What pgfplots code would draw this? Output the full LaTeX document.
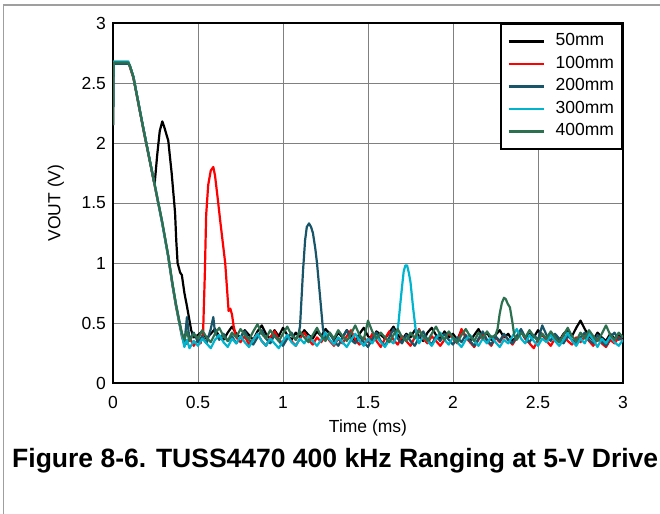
\documentclass[border=0pt]{standalone}
\usepackage{pgfplots}
\pgfplotsset{compat=1.18}
\usepackage{fontspec}
\setmainfont{Liberation Sans}
\definecolor{cA}{RGB}{0,0,0}
\definecolor{cB}{RGB}{255,0,0}
\definecolor{cC}{RGB}{25,85,105}
\definecolor{cD}{RGB}{0,180,205}
\definecolor{cE}{RGB}{45,112,80}
\newcommand{\lbl}{\fontsize{17.5bp}{20bp}\selectfont}
\begin{document}
\begin{tikzpicture}
\path[use as bounding box] (0,0) rectangle (660bp,514bp);
\draw[gray!75, line width=1.5bp] (3.5bp,0) -- (3.5bp,509bp) -- (660bp,509bp);
\begin{axis}[
  at={(113bp,131bp)}, anchor=south west,
  scale only axis, width=510bp, height=360bp,
  xmin=0, xmax=3, ymin=0, ymax=3,
  xtick={0,0.5,1,1.5,2,2.5,3}, ytick={0,0.5,1,1.5,2,2.5,3},
  grid=major, major grid style={gray, line width=0.9bp},
  axis line style={line width=2.2bp},
  major tick length=0pt,
  tick label style={font=\lbl},
  /pgf/number format/assume math mode=true,
  xticklabel style={yshift=-10bp},
  yticklabel style={xshift=-3.5bp},
  xlabel={Time (ms)}, ylabel={VOUT (V)},
  label style={font=\lbl},
  xlabel style={at={(axis description cs:0.5,-0.125)}, anchor=center},
  ylabel style={at={(axis description cs:-0.112,0.5)}, anchor=center},
  every axis plot/.append style={line width=2.2bp, line join=round},
  legend cell align=left,
  legend image code/.code={\draw[#1] (0bp,0bp) -- (35bp,0bp); \path (44bp,0bp);},
  legend style={at={(1,1)}, anchor=north east, draw=black, line width=2bp,
    font=\lbl, inner xsep=6bp, inner ysep=8bp, row sep=3.5bp,
    nodes={text height=12bp, text depth=3bp, inner sep=2bp}},
]
\addplot[cA] coordinates {(0,2.15)(0.003,2.67)(0.09,2.67)(0.10,2.64)(0.12,2.55)(0.15,2.33)(0.18,2.11)(0.21,1.90)(0.235,1.72)(0.245,1.66)(0.26,1.90)(0.275,2.10)(0.29,2.18)(0.30,2.14)(0.325,2.02)(0.345,1.75)(0.365,1.42)(0.372,1.19)(0.38,1.00)(0.395,0.92)(0.405,0.90)(0.42,0.75)(0.435,0.64)(0.45,0.52)(0.46,0.44)(0.475,0.38)
(0.500,0.40)(0.525,0.43)(0.550,0.37)(0.575,0.41)(0.600,0.45)(0.625,0.39)(0.650,0.36)(0.675,0.42)(0.700,0.47)(0.725,0.41)(0.750,0.38)(0.775,0.44)(0.800,0.40)(0.825,0.36)(0.850,0.43)(0.875,0.48)(0.900,0.41)(0.925,0.37)(0.950,0.44)(0.975,0.39)(1.000,0.46)(1.025,0.40)(1.050,0.36)(1.075,0.42)(1.100,0.38)(1.125,0.44)(1.150,0.40)(1.175,0.37)(1.200,0.43)(1.225,0.39)(1.250,0.45)(1.275,0.41)(1.300,0.36)(1.325,0.42)(1.350,0.38)(1.375,0.44)(1.400,0.40)(1.425,0.35)(1.450,0.41)(1.475,0.46)(1.500,0.39)(1.525,0.36)(1.550,0.43)(1.575,0.40)(1.600,0.37)(1.625,0.42)(1.650,0.47)(1.675,0.40)(1.700,0.36)(1.725,0.41)(1.750,0.38)(1.775,0.44)(1.800,0.39)(1.825,0.35)(1.850,0.42)(1.875,0.46)(1.900,0.40)(1.925,0.37)(1.950,0.43)(1.975,0.38)(2.000,0.41)(2.025,0.36)(2.050,0.44)(2.075,0.39)(2.100,0.35)(2.125,0.40)(2.150,0.45)(2.175,0.38)(2.200,0.42)(2.225,0.36)(2.250,0.40)(2.275,0.44)(2.300,0.38)(2.325,0.41)(2.350,0.35)(2.375,0.39)(2.400,0.43)(2.425,0.37)(2.450,0.41)(2.475,0.38)(2.500,0.44)(2.525,0.40)(2.550,0.36)(2.575,0.42)(2.600,0.38)(2.625,0.35)(2.650,0.41)(2.675,0.44)(2.700,0.39)(2.725,0.46)(2.750,0.52)(2.775,0.45)(2.800,0.39)(2.825,0.36)(2.850,0.42)(2.875,0.38)(2.900,0.35)(2.925,0.41)(2.950,0.37)(2.975,0.40)(3.000,0.38)};
\addlegendentry{50mm}
\addplot[cB] coordinates {(0,2.15)(0.003,2.67)(0.09,2.67)(0.10,2.63)(0.12,2.54)(0.15,2.32)(0.18,2.10)(0.21,1.89)(0.25,1.61)(0.29,1.33)(0.325,1.05)(0.35,0.81)(0.37,0.64)(0.39,0.50)(0.405,0.39)(0.42,0.32)(0.435,0.33)(0.45,0.38)(0.475,0.31)(0.50,0.36)(0.515,0.33)(0.53,0.42)(0.54,0.90)(0.548,1.40)(0.56,1.65)(0.575,1.77)(0.59,1.80)(0.60,1.73)(0.615,1.55)(0.63,1.36)(0.645,1.18)(0.66,1.00)(0.67,0.80)(0.68,0.60)(0.69,0.62)(0.70,0.57)(0.71,0.47)(0.725,0.38)
(0.750,0.34)(0.775,0.39)(0.800,0.32)(0.825,0.36)(0.850,0.41)(0.875,0.35)(0.900,0.31)(0.925,0.38)(0.950,0.43)(0.975,0.36)(1.000,0.33)(1.025,0.39)(1.050,0.35)(1.075,0.31)(1.100,0.37)(1.125,0.42)(1.150,0.36)(1.175,0.32)(1.200,0.38)(1.225,0.34)(1.250,0.40)(1.275,0.35)(1.300,0.31)(1.325,0.37)(1.350,0.33)(1.375,0.39)(1.400,0.44)(1.425,0.36)(1.450,0.32)(1.475,0.38)(1.500,0.34)(1.525,0.41)(1.550,0.35)(1.575,0.30)(1.600,0.37)(1.625,0.43)(1.650,0.36)(1.675,0.32)(1.700,0.39)(1.725,0.35)(1.750,0.31)(1.775,0.38)(1.800,0.45)(1.825,0.37)(1.850,0.33)(1.875,0.39)(1.900,0.35)(1.925,0.31)(1.950,0.36)(1.975,0.42)(2.000,0.37)(2.025,0.33)(2.050,0.45)(2.075,0.38)(2.100,0.34)(2.125,0.30)(2.150,0.36)(2.175,0.41)(2.200,0.35)(2.225,0.31)(2.250,0.38)(2.275,0.34)(2.300,0.40)(2.325,0.36)(2.350,0.32)(2.375,0.38)(2.400,0.44)(2.425,0.37)(2.450,0.33)(2.475,0.29)(2.500,0.36)(2.525,0.41)(2.550,0.35)(2.575,0.31)(2.600,0.37)(2.625,0.34)(2.650,0.40)(2.675,0.35)(2.700,0.32)(2.725,0.38)(2.750,0.34)(2.775,0.39)(2.800,0.35)(2.825,0.31)(2.850,0.37)(2.875,0.33)(2.900,0.30)(2.925,0.36)(2.950,0.33)(2.975,0.38)(3.000,0.35)};
\addlegendentry{100mm}
\addplot[cC] coordinates {(0,2.15)(0.003,2.66)(0.09,2.66)(0.10,2.64)(0.12,2.55)(0.15,2.33)(0.18,2.11)(0.21,1.90)(0.25,1.62)(0.29,1.33)(0.325,1.06)(0.35,0.82)(0.37,0.66)(0.39,0.52)(0.405,0.41)(0.42,0.33)(0.435,0.55)(0.45,0.36)(0.475,0.42)(0.50,0.34)(0.525,0.39)(0.55,0.33)(0.575,0.45)(0.59,0.55)(0.60,0.42)
(0.625,0.36)(0.650,0.41)(0.675,0.35)(0.700,0.39)(0.725,0.33)(0.750,0.38)(0.775,0.43)(0.800,0.36)(0.825,0.32)(0.850,0.38)(0.875,0.44)(0.900,0.37)(0.925,0.33)(0.950,0.40)(0.975,0.35)(1.000,0.31)(1.025,0.37)(1.050,0.42)(1.075,0.36)(1.09,0.40)(1.10,0.47)(1.118,0.94)(1.13,1.19)(1.14,1.30)(1.153,1.33)(1.165,1.30)(1.176,1.25)(1.19,1.12)(1.20,1.00)(1.218,0.72)(1.235,0.45)(1.25,0.37)(1.275,0.42)(1.300,0.35)(1.325,0.31)(1.350,0.38)(1.375,0.44)(1.400,0.36)(1.425,0.33)(1.450,0.39)(1.475,0.34)(1.500,0.30)(1.525,0.37)(1.550,0.42)(1.575,0.35)(1.600,0.31)(1.625,0.38)(1.650,0.45)(1.675,0.37)(1.700,0.33)(1.725,0.40)(1.750,0.35)(1.775,0.31)(1.800,0.38)(1.825,0.43)(1.850,0.36)(1.875,0.32)(1.900,0.39)(1.925,0.35)(1.950,0.41)(1.975,0.36)(2.000,0.32)(2.025,0.38)(2.050,0.34)(2.075,0.40)(2.100,0.35)(2.125,0.31)(2.150,0.37)(2.175,0.43)(2.200,0.36)(2.225,0.32)(2.250,0.39)(2.275,0.35)(2.300,0.41)(2.325,0.36)(2.350,0.33)(2.375,0.39)(2.400,0.45)(2.425,0.38)(2.450,0.34)(2.475,0.40)(2.500,0.36)(2.525,0.48)(2.550,0.40)(2.575,0.35)(2.600,0.41)(2.625,0.37)(2.650,0.33)(2.675,0.39)(2.700,0.36)(2.725,0.32)(2.750,0.38)(2.775,0.42)(2.800,0.36)(2.825,0.33)(2.850,0.40)(2.875,0.35)(2.900,0.31)(2.925,0.38)(2.950,0.42)(2.975,0.36)(3.000,0.39)};
\addlegendentry{200mm}
\addplot[cD] coordinates {(0,2.15)(0.003,2.68)(0.09,2.68)(0.10,2.64)(0.12,2.55)(0.15,2.33)(0.18,2.11)(0.21,1.90)(0.25,1.62)(0.29,1.33)(0.325,1.05)(0.35,0.82)(0.37,0.65)(0.39,0.50)(0.405,0.40)(0.42,0.30)(0.435,0.36)(0.45,0.29)
(0.475,0.35)(0.500,0.31)(0.525,0.37)(0.550,0.33)(0.575,0.29)(0.600,0.36)(0.625,0.40)(0.650,0.34)(0.675,0.30)(0.700,0.37)(0.725,0.33)(0.750,0.39)(0.775,0.34)(0.800,0.30)(0.825,0.36)(0.850,0.41)(0.875,0.35)(0.900,0.31)(0.925,0.37)(0.950,0.33)(0.975,0.29)(1.000,0.35)(1.025,0.40)(1.050,0.34)(1.075,0.31)(1.100,0.37)(1.125,0.33)(1.150,0.39)(1.175,0.35)(1.200,0.31)(1.225,0.36)(1.250,0.42)(1.275,0.36)(1.300,0.32)(1.325,0.38)(1.350,0.34)(1.375,0.30)(1.400,0.36)(1.425,0.41)(1.450,0.35)(1.475,0.31)(1.500,0.37)(1.525,0.33)(1.550,0.39)(1.575,0.34)(1.600,0.30)(1.625,0.36)(1.650,0.33)(1.665,0.38)(1.678,0.48)(1.69,0.66)(1.70,0.80)(1.71,0.93)(1.72,0.98)(1.73,0.98)(1.74,0.92)(1.75,0.84)(1.765,0.63)(1.78,0.45)(1.79,0.37)(1.800,0.33)(1.825,0.39)(1.850,0.35)(1.875,0.31)(1.900,0.37)(1.925,0.42)(1.950,0.36)(1.975,0.32)(2.000,0.38)(2.025,0.34)(2.050,0.30)(2.075,0.36)(2.100,0.40)(2.125,0.35)(2.150,0.31)(2.175,0.37)(2.200,0.33)(2.225,0.39)(2.250,0.34)(2.275,0.30)(2.300,0.36)(2.325,0.33)(2.350,0.39)(2.375,0.45)(2.400,0.37)(2.425,0.33)(2.450,0.40)(2.475,0.35)(2.500,0.31)(2.525,0.37)(2.550,0.34)(2.575,0.40)(2.600,0.35)(2.625,0.31)(2.650,0.36)(2.675,0.42)(2.700,0.35)(2.725,0.31)(2.750,0.37)(2.775,0.33)(2.800,0.41)(2.825,0.36)(2.850,0.30)(2.875,0.37)(2.900,0.33)(2.925,0.39)(2.950,0.34)(2.975,0.31)(3.000,0.36)};
\addlegendentry{300mm}
\addplot[cE] coordinates {(0,2.15)(0.003,2.67)(0.09,2.67)(0.10,2.64)(0.12,2.55)(0.15,2.33)(0.18,2.11)(0.21,1.90)(0.25,1.62)(0.29,1.34)(0.325,1.06)(0.35,0.83)(0.37,0.66)(0.39,0.51)(0.405,0.42)(0.42,0.36)(0.435,0.43)(0.45,0.35)
(0.475,0.41)(0.500,0.37)(0.525,0.44)(0.550,0.38)(0.575,0.34)(0.600,0.41)(0.625,0.46)(0.650,0.39)(0.675,0.35)(0.700,0.42)(0.725,0.38)(0.750,0.45)(0.775,0.40)(0.800,0.36)(0.825,0.43)(0.850,0.49)(0.875,0.41)(0.900,0.37)(0.925,0.44)(0.950,0.39)(0.975,0.35)(1.000,0.41)(1.025,0.47)(1.050,0.40)(1.075,0.36)(1.100,0.43)(1.125,0.38)(1.150,0.34)(1.175,0.40)(1.200,0.46)(1.225,0.39)(1.250,0.35)(1.275,0.42)(1.300,0.37)(1.325,0.44)(1.350,0.39)(1.375,0.35)(1.400,0.41)(1.425,0.48)(1.450,0.40)(1.475,0.36)(1.500,0.52)(1.525,0.43)(1.550,0.37)(1.575,0.42)(1.600,0.38)(1.625,0.34)(1.650,0.40)(1.675,0.45)(1.700,0.38)(1.725,0.35)(1.750,0.42)(1.775,0.37)(1.800,0.44)(1.825,0.39)(1.850,0.35)(1.875,0.41)(1.900,0.47)(1.925,0.40)(1.950,0.36)(1.975,0.43)(2.000,0.38)(2.025,0.34)(2.050,0.40)(2.075,0.45)(2.100,0.39)(2.125,0.35)(2.150,0.42)(2.175,0.37)(2.200,0.43)(2.225,0.38)(2.250,0.40)(2.262,0.45)(2.275,0.58)(2.288,0.67)(2.30,0.71)(2.31,0.70)(2.322,0.66)(2.335,0.63)(2.35,0.50)(2.36,0.40)(2.375,0.36)(2.400,0.42)(2.425,0.38)(2.450,0.44)(2.475,0.39)(2.500,0.35)(2.525,0.41)(2.550,0.37)(2.575,0.43)(2.600,0.38)(2.625,0.34)(2.650,0.40)(2.675,0.46)(2.700,0.39)(2.725,0.35)(2.750,0.42)(2.775,0.37)(2.800,0.44)(2.825,0.39)(2.850,0.35)(2.875,0.41)(2.900,0.48)(2.925,0.40)(2.950,0.36)(2.975,0.42)(3.000,0.38)};
\addlegendentry{400mm}
\end{axis}
\node[anchor=base west, inner sep=0pt, font=\fontsize{26.5bp}{30bp}\selectfont\bfseries] at (12bp,46bp) {Figure 8-6. TUSS4470 400 kHz Ranging at 5-V Drive};
\end{tikzpicture}
\end{document}
